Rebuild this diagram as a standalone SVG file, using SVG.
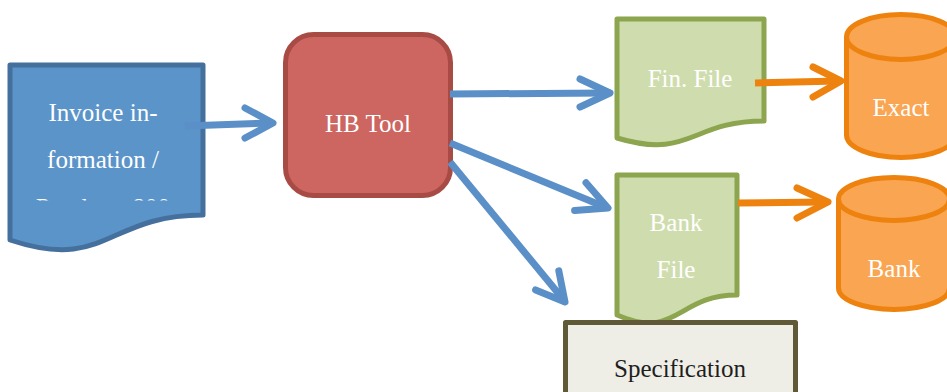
<svg xmlns="http://www.w3.org/2000/svg" width="947" height="392" viewBox="0 0 947 392">
  <defs>
    <style>
      .lbl { font-family: "Liberation Serif", "Times New Roman", serif; font-size: 25px; fill: #ffffff; text-anchor: middle; }
      .dark { fill: #1e1e1e; }
      .doc-blue { fill: #5B94C9; stroke: #45709E; stroke-width: 5; stroke-linejoin: round; }
      .doc-green { fill: #CFDDAE; stroke: #8CA54E; stroke-width: 5; stroke-linejoin: round; }
      .proc { fill: #CD6660; stroke: #A94B45; stroke-width: 5; }
      .db { fill: #F9A552; stroke: #EE820E; stroke-width: 5; stroke-linejoin: round; }
      .spec { fill: #EEEEE6; stroke: #5F5937; stroke-width: 5; stroke-linejoin: round; }
      .arrow { fill: none; stroke-width: 7; stroke-linejoin: round; }
      .arrow .shaft { stroke-linecap: butt; }
      .arrow .head { stroke-linecap: round; }
      .blue { stroke: #5A8FC7; }
      .orange { stroke: #EE820E; }
    </style>
    <clipPath id="invoiceFrame">
      <rect x="10" y="65" width="193" height="135.5"/>
    </clipPath>
  </defs>

  <!-- Input document -->
  <g id="invoice">
    <path class="doc-blue" d="M10,65 H203 V215 C106.5,215 106.5,272 10,240 Z"/>
    <g clip-path="url(#invoiceFrame)">
      <text class="lbl" x="103" y="121">Invoice in-</text>
      <text class="lbl" x="103" y="168">formation /</text>
      <text class="lbl" x="103" y="216">Purchase 800</text>
    </g>
  </g>

  <!-- Processing tool -->
  <g id="hbtool">
    <rect class="proc" x="285.5" y="34.5" width="165" height="161" rx="28" ry="28"/>
    <text class="lbl" x="368" y="132">HB Tool</text>
  </g>

  <!-- Output documents -->
  <g id="finfile">
    <path class="doc-green" d="M617,19 H764 V121 C690.5,121 690.5,160 617,138 Z"/>
    <text class="lbl" x="690" y="87">Fin. File</text>
  </g>

  <g id="bankfile">
    <path class="doc-green" d="M617,175 H737 V295 C677,295 677,341 617,315 Z"/>
    <text class="lbl" x="676" y="231">Bank</text>
    <text class="lbl" x="676" y="278">File</text>
  </g>

  <g id="specification">
    <rect class="spec" x="565.5" y="322.5" width="230" height="90"/>
    <text class="lbl dark" x="680" y="377">Specification</text>
  </g>

  <!-- Target databases -->
  <g id="exact">
    <path class="db" d="M846.5,37 A54.5,22.5 0 0 1 955.5,37 V135 A54.5,22.5 0 0 1 846.5,135 Z"/>
    <path class="db" fill="none" d="M846.5,37 A54.5,22.5 0 0 0 955.5,37"/>
    <text class="lbl" x="901" y="116">Exact</text>
  </g>

  <g id="bank">
    <path class="db" d="M838.5,199 A55.5,21.5 0 0 1 949.5,199 V288 A55.5,21.5 0 0 1 838.5,288 Z"/>
    <path class="db" fill="none" d="M838.5,199 A55.5,21.5 0 0 0 949.5,199"/>
    <text class="lbl" x="894" y="277">Bank</text>
  </g>

  <!-- Connectors -->
  <g id="connectors">
    <g class="arrow blue">
      <line class="shaft" x1="185" y1="126" x2="270" y2="123"/>
      <polyline class="head" points="245,108 273,123 245,138"/>
    </g>
    <g class="arrow blue">
      <line class="shaft" x1="450" y1="94" x2="607" y2="93"/>
      <polyline class="head" points="580,79 610,93 580,107"/>
    </g>
    <g class="arrow blue">
      <line class="shaft" x1="450" y1="143" x2="605" y2="207"/>
      <polyline class="head" points="586,182.7 608,208 574.6,210.5"/>
    </g>
    <g class="arrow blue">
      <line class="shaft" x1="450" y1="162" x2="563" y2="299"/>
      <polyline class="head" points="558.8,270.9 565,302 535.6,289.9"/>
    </g>
    <g class="arrow orange">
      <line class="shaft" x1="755" y1="83" x2="838" y2="81"/>
      <polyline class="head" points="813,67 841,81 813,97"/>
    </g>
    <g class="arrow orange">
      <line class="shaft" x1="738" y1="203" x2="825" y2="202"/>
      <polyline class="head" points="797,188 828,202 797,218"/>
    </g>
  </g>
</svg>
